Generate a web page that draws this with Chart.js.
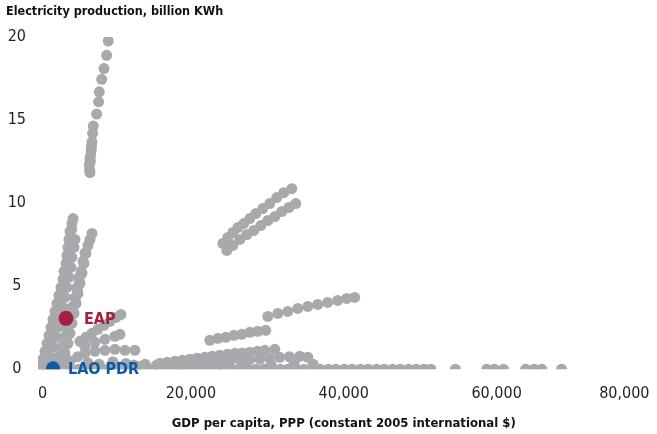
<!DOCTYPE html>
<html>
<head>
<meta charset="utf-8">
<script src="https://cdn.jsdelivr.net/npm/chart.js@4/dist/chart.umd.min.js"></script>
<style>
  html, body { margin: 0; padding: 0; background: #fff; }
  #wrap { position: relative; width: 657px; height: 434px; }
</style>
</head>
<body>
<div id="wrap"><canvas id="chart"></canvas></div>
<script>
// GDP per capita (x) vs electricity production (y), one array per group of country-years
const eap = [[3660, 3.06]];
const lao = [[1960, 0.05]];

const colTall = [
  [9190, 19.76], [8980, 18.9], [8630, 18.1], [8330, 17.45], [8010, 16.7], [7930, 16.1],
  [7670, 15.36], [7230, 14.64], [7150, 14.2], [7060, 13.69], [7000, 13.4], [6970, 13.2],
  [6900, 12.9], [6800, 12.69], [6850, 12.5], [6710, 12.3], [6750, 12.0], [6800, 11.83]
];

const riseA = [
  [390, 0.18], [650, 0.6], [920, 1.08], [1180, 1.56], [1440, 2.04], [1700, 2.52], [1960, 3.0],
  [2220, 3.48], [2480, 3.96], [2740, 4.44], [3010, 4.92], [3270, 5.41], [3400, 5.89],
  [3660, 6.37], [3790, 6.85], [3920, 7.33], [4050, 7.81], [4180, 8.29], [4440, 8.77], [4580, 9.07]
];
const riseB = [
  [1180, 0.12], [1570, 0.72], [1960, 1.32], [2350, 1.92], [2610, 2.52], [3010, 3.12],
  [3270, 3.72], [3530, 4.32], [3790, 4.92], [4050, 5.53], [4310, 6.13], [4440, 6.73],
  [4710, 7.33], [4840, 7.81]
];
const riseC = [
  [2220, 0.12], [2610, 0.72], [3010, 1.32], [3400, 1.92], [3790, 2.52], [4180, 3.12],
  [4440, 3.72], [4840, 4.32], [5100, 4.92], [5360, 5.53]
];
const riseD = [
  [3140, 0.36], [3530, 0.96], [3920, 1.56], [4180, 2.16], [4440, 2.76], [4710, 3.36],
  [4970, 3.96], [5230, 4.56], [5490, 5.17], [5750, 5.77], [6010, 6.37], [6270, 6.97],
  [6540, 7.45], [6800, 7.81], [7060, 8.17]
];
const riseE = [
  [800, 0.3], [1100, 0.9], [1350, 1.4], [1600, 1.9], [1850, 2.4], [2100, 2.9], [2350, 3.4],
  [2600, 3.9], [2850, 4.4], [3100, 4.9], [3350, 5.4], [3550, 5.9], [3750, 6.4], [3950, 6.9],
  [4150, 7.4], [4300, 7.9], [4400, 8.4]
];
const riseF = [
  [2800, 0.3], [3100, 0.8], [3400, 1.3], [3650, 1.8], [3900, 2.3], [4150, 2.8], [4400, 3.3],
  [4650, 3.8], [4900, 4.3], [5150, 4.8], [5400, 5.3], [5650, 5.9], [5900, 6.5], [6150, 7.0]
];

const midA = [
  [5490, 1.68], [6270, 1.92], [7060, 2.16], [7840, 2.4], [8630, 2.64], [9410, 2.88],
  [10200, 3.12], [10850, 3.3]
];
const midB = [[6140, 1.38], [7450, 1.62], [8760, 1.8], [10060, 1.98], [10720, 2.1]];
const midC = [
  [4200, 0.5], [5200, 0.75], [6140, 0.96], [7450, 1.08], [8760, 1.14], [10060, 1.2],
  [11370, 1.14], [12680, 1.14]
];

const highUpper = [
  [24180, 7.57], [24830, 7.93], [25490, 8.23], [26140, 8.53], [26920, 8.77], [27710, 9.07],
  [28490, 9.37], [29410, 9.67], [30320, 9.97], [31240, 10.33], [32150, 10.63], [33200, 10.87]
];
const highLower = [
  [24700, 7.15], [25490, 7.45], [26400, 7.81], [27320, 8.11], [28230, 8.35], [29150, 8.65],
  [30060, 8.95], [30980, 9.19], [31890, 9.49], [32810, 9.73], [33720, 9.97]
];

const stepUpper = [
  [30060, 3.18], [31370, 3.36], [32680, 3.48], [33980, 3.66], [35290, 3.78], [36600, 3.9],
  [37900, 4.02], [39210, 4.14], [40390, 4.26], [41430, 4.32]
];
const stepLower = [
  [22480, 1.74], [23530, 1.86], [24570, 1.92], [25620, 2.04], [26660, 2.1], [27710, 2.22],
  [28750, 2.28], [29800, 2.34]
];

const lowA = [
  [15950, 0.36], [17910, 0.48], [19870, 0.6], [21830, 0.72], [23790, 0.84], [25750, 0.96],
  [27710, 1.02], [29670, 1.14], [30980, 1.2]
];
const lowB = [
  [21170, 0.36], [23790, 0.42], [26400, 0.54], [29020, 0.6], [31630, 0.72], [34240, 0.78],
  [35290, 0.72]
];
const lowC = [
  [6500, 0.4], [8000, 0.3], [9800, 0.45], [11500, 0.35], [13000, 0.18], [15500, 0.24],
  [18500, 0.22], [21000, 0.3], [24000, 0.26], [27000, 0.34], [30500, 0.3], [33500, 0.36],
  [36000, 0.3]
];
const lowD = [
  [12500, 0.25], [14000, 0.3], [16900, 0.42], [18900, 0.54], [20800, 0.66], [22800, 0.78],
  [24800, 0.9], [26700, 0.98], [28700, 1.08]
];
const lowE = [
  [19000, 0.3], [22500, 0.4], [25100, 0.48], [27700, 0.57], [30300, 0.66], [32900, 0.75]
];

const baseRow = [
  [400, 0], [1200, 0], [2300, 0], [3300, 0], [4400, 0], [5300, 0], [6500, 0], [7400, 0],
  [8600, 0], [9500, 0], [10700, 0], [11600, 0], [12800, 0], [13700, 0], [14900, 0],
  [15800, 0], [17000, 0], [18000, 0], [19100, 0], [20100, 0], [21200, 0], [22200, 0],
  [23300, 0], [24300, 0], [25400, 0], [26400, 0], [27500, 0], [28500, 0], [29600, 0],
  [30600, 0], [31700, 0], [32700, 0], [33800, 0], [34800, 0], [35900, 0], [36900, 0],
  [38000, 0], [39000, 0], [40100, 0], [41100, 0], [42200, 0], [43200, 0], [44300, 0],
  [45300, 0], [46400, 0], [47400, 0], [48500, 0], [49500, 0], [50500, 0], [51400, 0],
  [54600, 0], [58700, 0], [59700, 0], [60900, 0], [63800, 0], [64900, 0], [65900, 0],
  [68500, 0]
];

const xTicks = [0, 20000, 40000, 60000, 80000];
const yTicks = [0, 5, 10, 15, 20];

const grey = '#a7a9ac';
const fontFam = "'Liberation Sans Narrow', 'DejaVu Sans Condensed', 'Roboto', sans-serif";

const toPts = arr => arr.map(p => ({ x: p[0], y: p[1] }));

const greyPts = toPts([].concat(
  baseRow, lowC, lowE, lowD, lowA, lowB, midC, midB, midA, riseF, riseD, riseC, riseB, riseE, riseA,
  colTall, stepLower, stepUpper, highLower, highUpper
));

const pointLabels = {
  id: 'pointLabels',
  afterDatasetsDraw(chart) {
    const ctx = chart.ctx;
    ctx.save();
    ctx.font = 'bold 16px ' + fontFam;
    ctx.textBaseline = 'middle';
    chart.data.datasets.forEach((ds, i) => {
      if (!ds.tag) return;
      const pt = chart.getDatasetMeta(i).data[0];
      ctx.fillStyle = ds.backgroundColor;
      ctx.fillText(ds.tag, pt.x + ds.tagGap, pt.y + 1);
    });
    ctx.restore();
  }
};

const config = {
  type: 'scatter',
  data: {
    datasets: [
      { label: 'EAP', tag: 'EAP', tagGap: 18, data: toPts(eap), backgroundColor: '#a3203f', pointRadius: 7.5, borderWidth: 0 },
      { label: 'LAO PDR', tag: 'LAO PDR', tagGap: 15, data: toPts(lao), backgroundColor: '#0c5aa6', pointRadius: 7, borderWidth: 0 },
      { label: 'Countries', data: greyPts, backgroundColor: grey, pointRadius: 5.5, borderWidth: 0 }
    ]
  },
  options: {
    responsive: true,
    maintainAspectRatio: false,
    animation: false,
    layout: {
      padding: { top: 0, bottom: 0, left: 6, right: 7 }
    },
    plugins: {
      legend: { display: false },
      tooltip: { enabled: false },
      title: {
        display: true,
        text: 'Electricity production, billion KWh',
        align: 'start',
        color: '#111',
        font: { family: fontFam, size: 12.5, weight: 'bold' },
        padding: { top: 4, bottom: 18 }
      }
    },
    scales: {
      x: {
        type: 'linear',
        min: 0,
        max: 80000,
        grid: { display: false, drawTicks: true, tickLength: 12 },
        border: { display: false },
        afterBuildTicks: s => { s.ticks = xTicks.map(v => ({ value: v })); },
        ticks: {
          align: 'inner',
          padding: 3,
          color: '#231f20',
          font: { family: fontFam, size: 16 },
          callback: v => v.toLocaleString('en-US')
        },
        title: {
          display: true,
          text: 'GDP per capita, PPP (constant 2005 international $)',
          color: '#111',
          font: { family: fontFam, size: 13, weight: 'bold' },
          padding: { top: 9, bottom: 3 }
        }
      },
      y: {
        type: 'linear',
        min: 0,
        max: 20,
        grid: { display: false, drawTicks: false },
        border: { display: false },
        afterBuildTicks: s => { s.ticks = yTicks.map(v => ({ value: v })); },
        afterFit: s => { s.width = 32; },
        ticks: {
          crossAlign: 'center',
          padding: 12,
          color: '#231f20',
          font: { family: fontFam, size: 16 }
        }
      }
    }
  },
  plugins: [pointLabels]
};

new Chart(document.getElementById('chart'), config);
</script>
</body>
</html>
